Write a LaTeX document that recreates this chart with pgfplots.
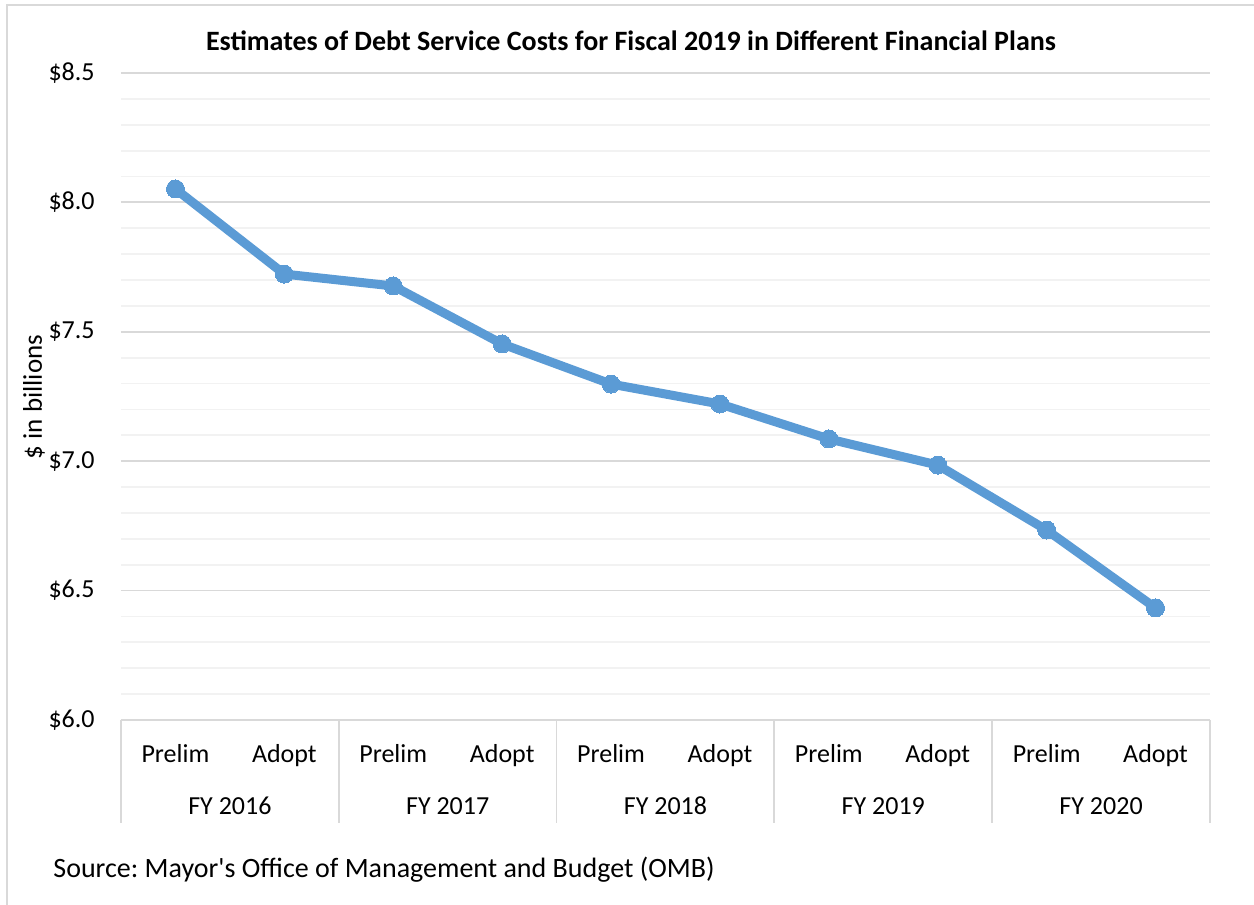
\documentclass[border=0pt]{standalone}
\usepackage{pgfplots}
\pgfplotsset{compat=1.18}
\usepackage{fontspec}
\setmainfont{Carlito}
\frenchspacing
\definecolor{lineblue}{HTML}{5B9BD5}
\definecolor{majgrid}{HTML}{D9D9D9}
\definecolor{mingrid}{HTML}{F2F2F2}
\begin{document}
\begin{tikzpicture}
\path[use as bounding box] (0pt,0pt) rectangle (627pt,452.5pt);
\draw[majgrid, line width=0.9pt] (3.5pt,-2pt) -- (3.5pt,450pt) -- (630pt,450pt);
\node[anchor=base, font=\fontsize{14}{16}\selectfont\bfseries] at (315.5pt,427pt)
  {Estimates of Debt Service Costs for Fiscal 2019 in Different Financial Plans};
\node[anchor=base, rotate=90, font=\fontsize{13.5}{15}\selectfont] at (21pt,254pt) {\$ in billions};
\node[anchor=base west, inner sep=0pt, font=\fontsize{14}{16}\selectfont] at (26.5pt,13.5pt)
  {Source: Mayor\textquotesingle s Office of Management and Budget (OMB)};
\begin{axis}[
    at={(60.5pt,92.5pt)}, anchor=south west,
    scale only axis, width=544.5pt, height=323.5pt,
    xmin=-0.5, xmax=9.5, ymin=6, ymax=8.5,
    axis line style={draw=none},
    xtick={0,...,9},
    xticklabels={Prelim,Adopt,Prelim,Adopt,Prelim,Adopt,Prelim,Adopt,Prelim,Adopt},
    xticklabel style={anchor=base, yshift=-21.5pt, inner sep=0pt},
    ytick={6,6.5,...,8.5},
    minor y tick num=4,
    major tick length=0pt, minor tick length=0pt,
    ymajorgrids, yminorgrids,
    major grid style={majgrid, line width=0.9pt},
    minor grid style={mingrid, line width=0.9pt},
    /pgf/number format/fixed,
    /pgf/number format/fixed zerofill,
    /pgf/number format/precision=1,
    /pgf/number format/assume math mode=true,
    yticklabel={\$\pgfmathprintnumber{\tick}},
    yticklabel style={anchor=east, inner sep=0pt, xshift=-13pt},
    tick label style={font=\fontsize{13}{15}\selectfont},
    clip=false,
]
\addplot[lineblue, line width=4.5pt, mark=*, mark size=4.5pt, mark options={fill=lineblue, draw=lineblue, line width=0pt}]
  coordinates {(0,8.052) (1,7.723) (2,7.677) (3,7.453) (4,7.298) (5,7.221) (6,7.086) (7,6.985) (8,6.734) (9,6.433)};
\pgfplotsinvokeforeach{-0.5,1.5,3.5,5.5,7.5,9.5}{
  \draw[majgrid, line width=0.9pt] (axis cs:#1,6) -- ++(0pt,-51.5pt);
}
\node[anchor=base, font=\fontsize{13}{15}\selectfont] at (axis cs:0.5,6) [yshift=-47.5pt] {FY 2016};
\node[anchor=base, font=\fontsize{13}{15}\selectfont] at (axis cs:2.5,6) [yshift=-47.5pt] {FY 2017};
\node[anchor=base, font=\fontsize{13}{15}\selectfont] at (axis cs:4.5,6) [yshift=-47.5pt] {FY 2018};
\node[anchor=base, font=\fontsize{13}{15}\selectfont] at (axis cs:6.5,6) [yshift=-47.5pt] {FY 2019};
\node[anchor=base, font=\fontsize{13}{15}\selectfont] at (axis cs:8.5,6) [yshift=-47.5pt] {FY 2020};
\end{axis}
\end{tikzpicture}
\end{document}
